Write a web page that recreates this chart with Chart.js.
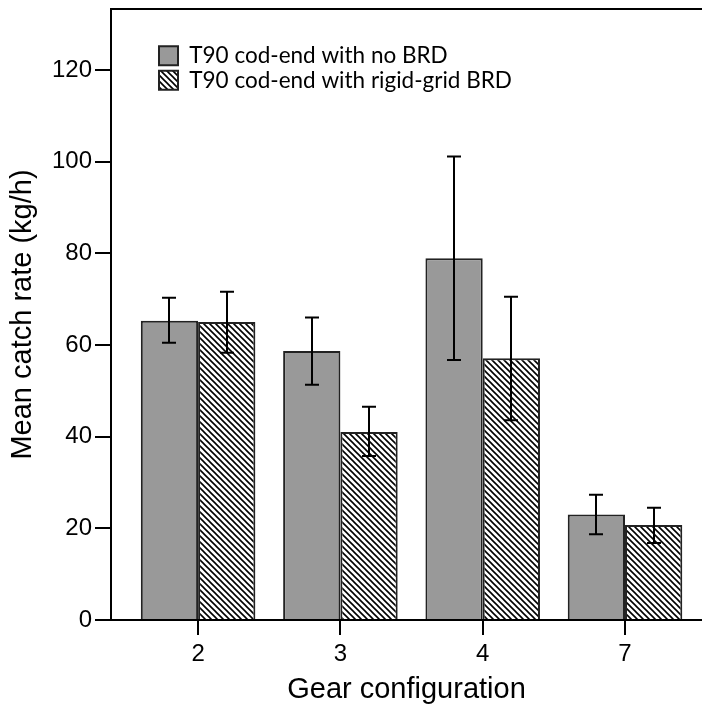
<!DOCTYPE html>
<html>
<head>
<meta charset="utf-8">
<script src="https://cdn.jsdelivr.net/npm/chart.js@4"></script>
<style>
  html, body { margin: 0; padding: 0; background: #fff; }
  #chart { display: block; }
</style>
</head>
<body>
<canvas id="chart" width="702" height="713"></canvas>
<script>
// Gear configurations on the x axis
const gearConfigs = ['2', '3', '4', '7'];

// Mean catch rate (kg/h) with error bar ends, per cod-end
const noBrdMeans = [65.3, 58.7, 78.9, 23.0];
const noBrdLower = [60.5, 51.3, 56.7, 18.7];
const noBrdUpper = [70.3, 66.0, 101.1, 27.3];

const gridBrdMeans = [65.0, 41.0, 57.1, 20.7];
const gridBrdLower = [58.3, 35.8, 43.6, 16.8];
const gridBrdUpper = [71.6, 46.5, 70.5, 24.5];

const yTicks = [0, 20, 40, 60, 80, 100, 120];

// diagonal hatch "\\\\" for the rigid-grid bars
function makeHatch() {
  const s = 6;
  const c = document.createElement('canvas');
  c.width = s; c.height = s;
  const g = c.getContext('2d');
  g.fillStyle = '#fff';
  g.fillRect(0, 0, s, s);
  g.strokeStyle = '#000';
  g.lineWidth = 1.6;
  g.beginPath();
  g.moveTo(0, 0); g.lineTo(s, s);
  g.moveTo(-2, s - 2); g.lineTo(2, s + 2);
  g.moveTo(s - 2, -2); g.lineTo(s + 2, 2);
  g.stroke();
  return g.createPattern(c, 'repeat');
}

const ctx = document.getElementById('chart').getContext('2d');
const hatch = makeHatch();

const errorBars = {
  id: 'errorBars',
  afterDatasetsDraw(chart) {
    const c = chart.ctx;
    const yScale = chart.scales.y;
    const ranges = [[noBrdLower, noBrdUpper], [gridBrdLower, gridBrdUpper]];
    c.save();
    c.strokeStyle = '#000';
    c.lineWidth = 2;
    ranges.forEach((r, di) => {
      const meta = chart.getDatasetMeta(di);
      meta.data.forEach((bar, j) => {
        const x = Math.round(bar.x);
        const lo = yScale.getPixelForValue(r[0][j]);
        const hi = yScale.getPixelForValue(r[1][j]);
        c.beginPath();
        c.moveTo(x, lo); c.lineTo(x, hi);
        c.moveTo(x - 7, lo); c.lineTo(x + 7, lo);
        c.moveTo(x - 7, hi); c.lineTo(x + 7, hi);
        c.stroke();
      });
    });
    c.restore();
  }
};

// top frame line of the plot
const topFrame = {
  id: 'topFrame',
  afterDraw(chart) {
    const a = chart.chartArea;
    const c = chart.ctx;
    c.save();
    c.strokeStyle = '#000';
    c.lineWidth = 2;
    c.beginPath();
    c.moveTo(a.left - 1, a.top);
    c.lineTo(a.right, a.top);
    c.stroke();
    c.restore();
  }
};

// move the legend inside the plot, top-left
const legendInside = {
  id: 'legendInside',
  afterLayout(chart) {
    if (!chart.legend) return;
    chart.legend.left = 157;
    chart.legend.top = 42.5;
  }
};

Chart.defaults.font.family = '"Liberation Sans", Arial, sans-serif';
Chart.defaults.color = '#000';

new Chart(ctx, {
  type: 'bar',
  data: {
    datasets: [
      {
        label: 'T90 cod-end with no BRD',
        data: gearConfigs.map((g, i) => ({ x: i + 1, y: noBrdMeans[i] })),
        backgroundColor: '#999999',
        borderColor: '#222',
        borderWidth: 2,
      },
      {
        label: 'T90 cod-end with rigid-grid BRD',
        data: gearConfigs.map((g, i) => ({ x: i + 1, y: gridBrdMeans[i] })),
        backgroundColor: hatch,
        borderColor: '#222',
        borderWidth: 2,
      }
    ]
  },
  options: {
    responsive: false,
    animation: false,
    devicePixelRatio: 1,
    categoryPercentage: 0.805,
    barPercentage: 1.0,
    layout: { padding: { top: 9, left: 0, right: 0, bottom: 0 } },
    plugins: {
      tooltip: { enabled: false },
      legend: {
        position: 'chartArea',
        align: 'start',
        labels: {
          boxWidth: 19,
          boxHeight: 19,
          padding: 2,
          color: '#000',
          font: { family: 'Lato', size: 22.5 }
        }
      }
    },
    scales: {
      x: {
        type: 'linear',
        min: 0.388,
        max: 4.541,
        bounds: 'data',
        offset: false,
        afterBuildTicks: s => { s.ticks = gearConfigs.map((g, i) => ({ value: i + 1 })); },
        afterFit: s => { s.height = 93; s.paddingLeft = 0; s.paddingRight = 0; },
        ticks: {
          callback: v => gearConfigs[v - 1],
          font: { size: 24 },
          color: '#000',
          padding: 5
        },
        grid: { offset: false, drawOnChartArea: false, tickLength: 15, color: '#000', lineWidth: 2 },
        border: { color: '#000', width: 2 },
        title: {
          display: true,
          text: 'Gear configuration',
          font: { size: 29 },
          color: '#000',
          padding: { top: 0, bottom: 6 }
        }
      },
      y: {
        min: 0,
        max: 133.3,
        bounds: 'data',
        afterBuildTicks: s => { s.ticks = yTicks.map(v => ({ value: v })); },
        afterFit: s => { s.width = 111; s.paddingTop = 0; s.paddingBottom = 0; },
        ticks: { font: { size: 24 }, color: '#000', padding: 3 },
        grid: { drawOnChartArea: false, tickLength: 16, color: '#000', lineWidth: 2 },
        border: { color: '#000', width: 2 },
        title: {
          display: true,
          text: 'Mean catch rate (kg/h)',
          font: { size: 29 },
          color: '#000',
          padding: { top: 6, bottom: 0 }
        }
      }
    }
  },
  plugins: [errorBars, topFrame, legendInside]
});
</script>
</body>
</html>
